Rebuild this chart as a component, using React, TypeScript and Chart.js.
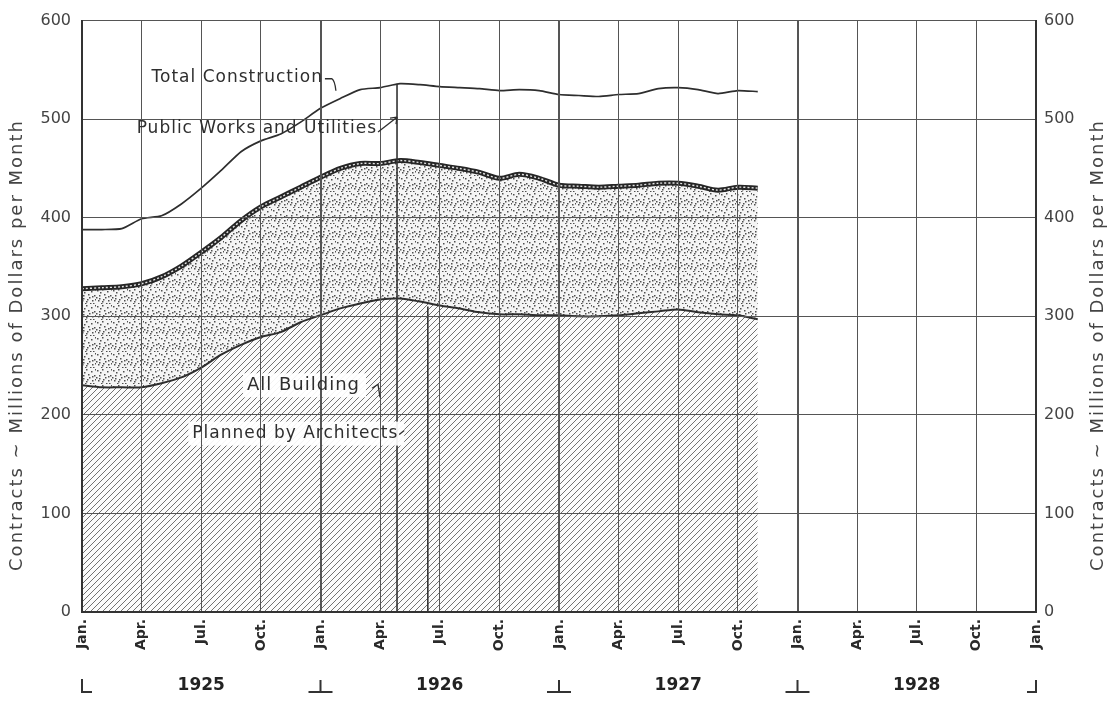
import React, { useEffect, useRef } from "react";
import { Chart, registerables } from "chart.js";

Chart.register(...registerables);

// Month index: 0 = Jan 1925 ... 34 = Nov 1927
const monthIndex = [
  0, 1, 2, 3, 4, 5, 6, 7, 8, 9, 10, 11,
  12, 13, 14, 15, 16, 17, 18, 19, 20, 21, 22, 23,
  24, 25, 26, 27, 28, 29, 30, 31, 32, 33, 34,
];

const totalConstruction = [
  388, 388, 389, 399, 402, 414, 430, 448, 467, 478, 485, 497,
  511, 521, 530, 532, 536, 535, 533, 532, 531, 529, 530, 529,
  525, 524, 523, 525, 526, 531, 532, 530, 526, 529, 528,
];

const allBuilding = [
  328, 329, 330, 333, 340, 351, 365, 380, 397, 411, 421, 431,
  441, 450, 455, 455, 458, 456, 453, 450, 446, 440, 444, 440,
  433, 432, 431, 432, 433, 435, 435, 432, 428, 431, 430,
];

const plannedByArchitects = [
  230, 228, 228, 228, 232, 238, 248, 261, 271, 279, 284, 294,
  301, 308, 313, 317, 318, 315, 311, 308, 304, 302, 302, 301,
  301, 300, 300, 301, 303, 305, 307, 304, 302, 301, 297,
];

const quarterLabels = ["Jan.", "Apr.", "Jul.", "Oct."];
const yearLabels = ["1925", "1926", "1927", "1928"];
const axisTitle = "Contracts ~ Millions of Dollars per Month";

const notes = [
  { text: "Total Construction", m: 3.5, v: 542, box: false, hook: "total", size: 17 },
  { text: "Public Works and Utilities", m: 2.75, v: 490, box: false, hook: "public", size: 17 },
  { text: "All Building", m: 8.3, v: 230, box: true, hook: "all", size: 18 },
  { text: "Planned by Architects", m: 5.55, v: 181, box: true, hook: "arch", size: 17 },
];

const FONT = '"DejaVu Sans", "Noto Sans", sans-serif';
const INK = "#2e2e2e";

function pts(vals: number[]) {
  return vals.map((v, i) => ({ x: monthIndex[i], y: v }));
}

function makeHatch(): CanvasPattern {
  const c = document.createElement("canvas");
  c.width = 6;
  c.height = 6;
  const g = c.getContext("2d")!;
  g.fillStyle = "#fbfbfb";
  g.fillRect(0, 0, 6, 6);
  g.strokeStyle = "#727272";
  g.lineWidth = 1;
  g.beginPath();
  g.moveTo(0, 6);
  g.lineTo(6, 0);
  g.moveTo(-3, 3);
  g.lineTo(3, -3);
  g.moveTo(3, 9);
  g.lineTo(9, 3);
  g.stroke();
  return g.createPattern(c, "repeat")!;
}

const dotSpots = [
  [1, 2], [6, 1], [11, 3], [14, 7], [3, 7], [8, 6], [12, 12], [2, 12],
  [7, 11], [5, 15], [10, 15], [15, 1], [9, 9], [4, 4], [13, 15], [0, 9],
  [12, 8], [6, 13], [15, 11], [3, 10],
];

function makeDots(): CanvasPattern {
  const c = document.createElement("canvas");
  c.width = 16;
  c.height = 16;
  const g = c.getContext("2d")!;
  g.fillStyle = "#f5f5f5";
  g.fillRect(0, 0, 16, 16);
  g.fillStyle = "#505050";
  for (const [x, y] of dotSpots) {
    g.fillRect(x, y, 1.5, 1.5);
  }
  return g.createPattern(c, "repeat")!;
}

const overlayPlugin = {
  id: "overlay",
  afterDatasetsDraw(chart: any) {
    const ctx = chart.ctx;
    const xs = chart.scales.x;
    const ys = chart.scales.y;
    ctx.save();
    ctx.strokeStyle = "#333";
    ctx.lineWidth = 1.6;
    ctx.beginPath();
    ctx.moveTo(xs.getPixelForValue(15.85), ys.getPixelForValue(totalConstruction[16]));
    ctx.lineTo(xs.getPixelForValue(15.85), ys.getPixelForValue(0));
    ctx.moveTo(xs.getPixelForValue(17.4), ys.getPixelForValue(plannedByArchitects[17] - 5));
    ctx.lineTo(xs.getPixelForValue(17.4), ys.getPixelForValue(0));
    ctx.stroke();
    ctx.fillStyle = "rgba(255,255,255,0.92)";
    for (const n of notes) {
      if (!n.box) continue;
      ctx.font = `${n.size}px ${FONT}`;
      (ctx as any).letterSpacing = "1px";
      const x = xs.getPixelForValue(n.m);
      const y = ys.getPixelForValue(n.v);
      const w = ctx.measureText(n.text).width;
      ctx.fillRect(x - 4, y - 12, w + 10, 24);
    }
    ctx.restore();
  },
  afterDraw(chart: any) {
    const ctx = chart.ctx;
    const xs = chart.scales.x;
    const ys = chart.scales.y;
    const area = chart.chartArea;
    ctx.save();
    ctx.fillStyle = INK;
    ctx.strokeStyle = INK;
    ctx.lineWidth = 1.3;
    ctx.textAlign = "left";
    ctx.textBaseline = "middle";
    for (const n of notes) {
      ctx.font = `${n.size}px ${FONT}`;
      (ctx as any).letterSpacing = "1px";
      const x = xs.getPixelForValue(n.m);
      const y = ys.getPixelForValue(n.v);
      ctx.fillText(n.text, x, y);
      const ex = x + ctx.measureText(n.text).width;
      ctx.beginPath();
      if (n.hook === "total") {
        ctx.moveTo(ex + 2, y + 1);
        ctx.lineTo(ex + 9, y + 1);
        ctx.quadraticCurveTo(ex + 12, y + 3, ex + 13, y + 13);
      } else if (n.hook === "public") {
        const tx = xs.getPixelForValue(15.85);
        const ty = ys.getPixelForValue(502);
        ctx.moveTo(ex + 1, y + 3);
        ctx.lineTo(tx, ty);
        ctx.stroke();
        ctx.beginPath();
        ctx.moveTo(tx, ty);
        ctx.lineTo(tx - 7, ty + 1);
        ctx.moveTo(tx, ty);
        ctx.lineTo(tx - 1, ty + 7);
      } else if (n.hook === "all") {
        ctx.moveTo(ex + 12, y + 3);
        ctx.lineTo(ex + 18, y - 1);
        ctx.lineTo(ex + 20, y + 12);
      } else if (n.hook === "arch") {
        ctx.moveTo(ex + 1, y + 1);
        ctx.lineTo(ex + 6, y - 3);
      }
      ctx.stroke();
    }
    (ctx as any).letterSpacing = "0px";

    // Year labels
    ctx.font = `bold 17px ${FONT}`;
    ctx.textAlign = "center";
    ctx.fillStyle = "#222";
    const yy = 686;
    yearLabels.forEach((yr, i) => {
      ctx.fillText(yr, xs.getPixelForValue(i * 12 + 6), yy);
    });
    ctx.lineWidth = 2;
    ctx.strokeStyle = "#333";
    for (let i = 0; i <= yearLabels.length; i++) {
      const bx = xs.getPixelForValue(i * 12);
      ctx.beginPath();
      if (i === 0) {
        ctx.moveTo(bx, 679);
        ctx.lineTo(bx, 692);
        ctx.lineTo(bx + 10, 692);
      } else if (i === yearLabels.length) {
        ctx.moveTo(bx, 680);
        ctx.lineTo(bx, 692);
        ctx.lineTo(bx - 9, 692);
      } else {
        ctx.moveTo(bx, 680);
        ctx.lineTo(bx, 692);
        ctx.moveTo(bx - 12, 692);
        ctx.lineTo(bx + 12, 692);
      }
      ctx.stroke();
    }

    // Axis titles
    ctx.font = `18px ${FONT}`;
    (ctx as any).letterSpacing = "2px";
    ctx.fillStyle = "#444";
    ctx.textAlign = "center";
    const cy = 345;
    ctx.save();
    ctx.translate(17, cy);
    ctx.rotate(-Math.PI / 2);
    ctx.fillText(axisTitle, 0, 0);
    ctx.restore();
    ctx.save();
    ctx.translate(area.right + 62, cy);
    ctx.rotate(-Math.PI / 2);
    ctx.fillText(axisTitle, 0, 0);
    ctx.restore();
    (ctx as any).letterSpacing = "0px";
    ctx.restore();
  },
};

export default function App() {
  const ref = useRef<HTMLCanvasElement>(null);
  useEffect(() => {
    document.body.style.margin = "0";
    const canvas = ref.current!;
    const hatch = makeHatch();
    const dots = makeDots();
    const chart = new Chart(canvas, {
      type: "line",
      data: {
        datasets: [
          {
            label: "Planned by Architects",
            data: pts(plannedByArchitects),
            borderColor: INK,
            borderWidth: 2,
            backgroundColor: hatch,
            fill: "origin",
            pointRadius: 0,
            tension: 0.3,
            yAxisID: "y",
          },
          {
            label: "All Building",
            data: pts(allBuilding),
            borderColor: "#262626",
            borderWidth: 5,
            backgroundColor: dots,
            fill: "-1",
            pointRadius: 0,
            tension: 0.3,
            yAxisID: "y",
          },
          {
            label: "Total Construction",
            data: pts(totalConstruction),
            borderColor: INK,
            borderWidth: 1.7,
            fill: false,
            pointRadius: 0,
            tension: 0.2,
            yAxisID: "y",
          },
          {
            label: "band",
            data: pts(allBuilding),
            borderColor: "#e4e4e4",
            borderWidth: 1.4,
            borderDash: [2, 2],
            fill: false,
            pointRadius: 0,
            tension: 0.3,
            order: -1,
            yAxisID: "y",
          },
        ],
      },
      options: {
        responsive: false,
        animation: false,
        events: [],
        layout: { padding: { top: 20, left: 0, right: 0, bottom: 0 } },
        plugins: {
          legend: { display: false },
          tooltip: { enabled: false },
          title: { display: false },
        },
        scales: {
          x: {
            type: "linear",
            min: 0,
            max: 48,
            grid: {
              z: 1,
              color: "#555",
              lineWidth: (c: any) => (c.tick && c.tick.value % 12 === 0 ? 2 : 1),
              drawTicks: false,
            },
            border: { display: true, color: "#333", width: 2, z: 2 },
            ticks: {
              stepSize: 3,
              autoSkip: false,
              maxRotation: 90,
              minRotation: 90,
              padding: 7,
              color: "#2a2a2a",
              font: { size: 14, family: FONT, weight: "bold" },
              callback: (v: any) => quarterLabels[Math.round(Number(v) / 3) % 4],
            },
            afterFit: (s: any) => {
              s.height = 90;
            },
          },
          y: {
            type: "linear",
            position: "left",
            min: 0,
            max: 600,
            grid: { z: 1, color: "#555", lineWidth: 1, drawTicks: false },
            border: { display: true, color: "#333", width: 2, z: 2 },
            ticks: {
              stepSize: 100,
              padding: 11,
              color: "#444",
              font: { size: 16, family: FONT },
            },
            afterFit: (s: any) => {
              s.width = 82;
            },
          },
          y2: {
            type: "linear",
            position: "right",
            min: 0,
            max: 600,
            grid: { drawOnChartArea: false, drawTicks: false },
            border: { display: true, color: "#333", width: 2, z: 2 },
            ticks: {
              stepSize: 100,
              padding: 8,
              color: "#444",
              font: { size: 16, family: FONT },
            },
            afterFit: (s: any) => {
              s.width = 82;
            },
          },
        },
      },
      plugins: [overlayPlugin],
    } as any);
    return () => chart.destroy();
  }, []);
  return (
    <div style={{ width: 1118, height: 702, position: "relative" }}>
      <canvas ref={ref} width={1118} height={702} style={{ display: "block" }} />
    </div>
  );
}
